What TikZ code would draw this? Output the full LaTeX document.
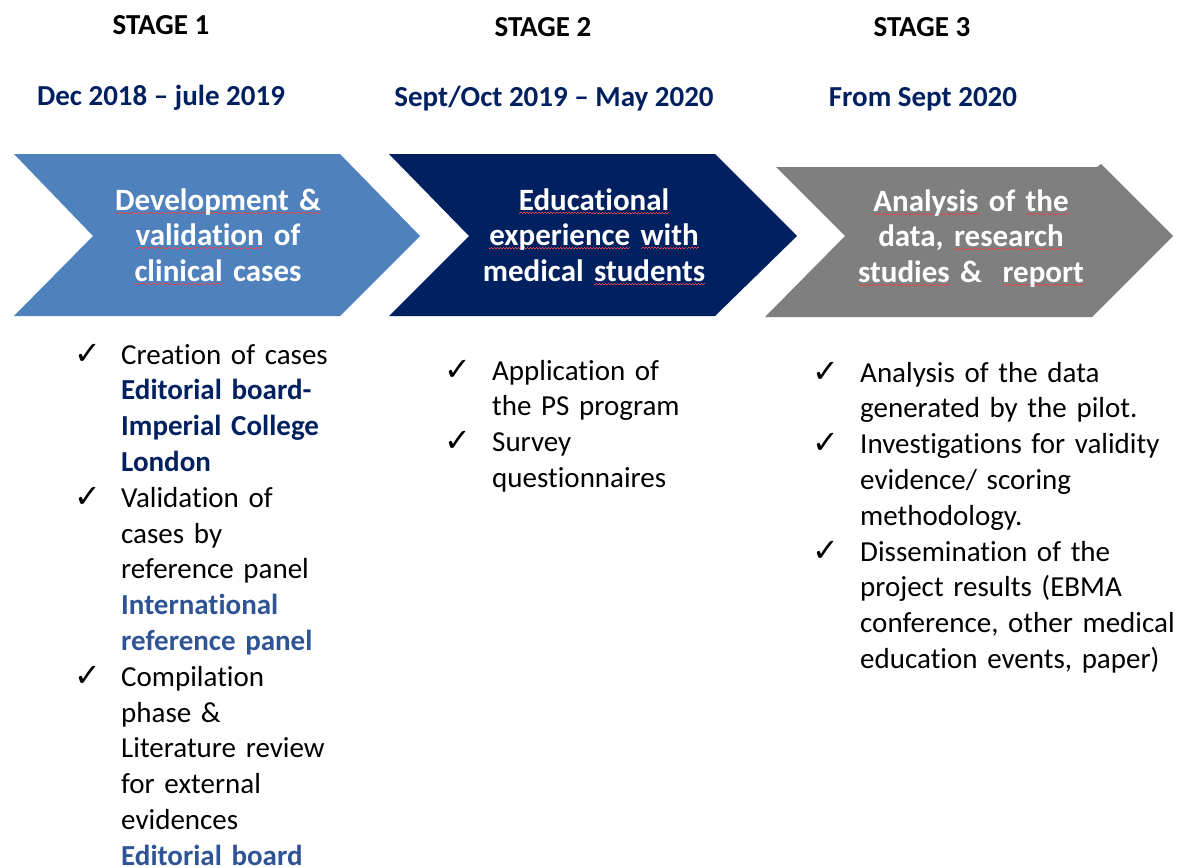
\documentclass[tikz,border=0pt]{standalone}
\usepackage{fontspec}
\setmainfont[Ligatures=NoCommon]{Carlito}
\newfontfamily\tickfont{DejaVu Sans}
\usetikzlibrary{positioning}
\definecolor{chevblue}{HTML}{4F81BD}
\definecolor{chevnavy}{HTML}{002060}
\definecolor{chevgray}{HTML}{7F7F7F}
\definecolor{panelblue}{HTML}{2F5496}
\definecolor{spellred}{HTML}{E0474C}
\newsavebox{\splbox}
\newcommand{\spl}[1]{\leavevmode\sbox{\splbox}{#1}\rlap{\color{spellred}\hbox to \wd\splbox{\xleaders\hbox{\rule[-3.2pt]{1.5pt}{0.7pt}\rule[-2.5pt]{1.5pt}{0.7pt}}\hfill}}\usebox{\splbox}}
\AtBeginDocument{\fontsize{29}{35.8}\selectfont}

\begin{document}
\begin{tikzpicture}[x=1pt,y=-1pt,
    stagehead/.style={font=\bfseries, anchor=base},
    period/.style={font=\bfseries, text=chevnavy, anchor=base},
    chevtext/.style={font=\fontsize{31}{35.5}\selectfont\bfseries, text=white,
      text width=300pt, align=center, anchor=base, inner sep=0pt},
    itemtext/.style={text width=340pt, align=left, anchor=base west, inner sep=0pt},
    tick/.style={font=\fontsize{32}{32}\selectfont\tickfont, anchor=base, inner sep=0pt}]
  \useasboundingbox (0,0) rectangle (1191,867);

  % stages and dates
  \node[stagehead] (s1) at (161,35) {STAGE 1};
  \node[stagehead] (s2) at (543,37) {STAGE 2};
  \node[stagehead] (s3) at (922,37) {STAGE 3};
  \node[period] (d1) at (161,105) {Dec 2018 – jule 2019};
  \node[period] (d2) at (554,106) {Sept/Oct 2019 – May 2020};
  \node[period] (d3) at (923,106) {From Sept 2020};

  % chevrons
  \fill[chevblue] (14,154) -- (340,154) -- (420,236) -- (340,316) -- (14,316) -- (93,236) -- cycle;
  \fill[chevnavy] (389,154) -- (715,154) -- (797,236) -- (715,316) -- (389,316) -- (469,236) -- cycle;
  \fill[chevgray] (776,167) -- (1097,167) -- (1101,164) -- (1173,236) -- (1092,317) -- (765,317) -- (845,236) -- cycle;
  \node[chevtext] (dev) at (218,210) {\spl{Development \&}\\ \spl{validation} of\\ \spl{clinical} cases};
  \node[chevtext] (edu) at (594,210) {\spl{Educational}\\ \spl{experience} \spl{with}\\ medical \spl{students}};
  \node[chevtext] (ana) at (971,211) {\spl{Analysis} of \spl{the}\\ data, \spl{research}\\ \spl{studies} \&\ \ \spl{report}};

  % stage 1 items
  \node[itemtext] (c1) at (121,364) {Creation of cases\\ {\bfseries\color{chevnavy}Editorial board-\\ Imperial College\\ London}};
  \node[itemtext] (c2) at (121,507.2) {Validation of\\ cases by\\ reference panel\\ {\bfseries\color{panelblue}International\\ reference panel}};
  \node[itemtext] (c3) at (121,686.2) {Compilation\\ phase \&\\ Literature review\\ for external\\ evidences\\ {\bfseries\color{panelblue}Editorial board}};
  \node[tick] (k1) at ([xshift=-33pt]c1.base west) {✓};
  \node[tick] (k2) at ([xshift=-33pt]c2.base west) {✓};
  \node[tick] (k3) at ([xshift=-33pt]c3.base west) {✓};

  % stage 2 items
  \node[itemtext] (a1) at (492,380) {Application of\\ the PS program};
  \node[itemtext] (a2) at (492,451.6) {Survey\\ questionnaires};
  \node[tick] (k4) at ([xshift=-34pt]a1.base west) {✓};
  \node[tick] (k5) at ([xshift=-34pt]a2.base west) {✓};

  % stage 3 items
  \node[itemtext] (r1) at (860,382) {Analysis of the data\\ generated by the pilot.};
  \node[itemtext] (r2) at (860,453.6) {Investigations for validity\\ evidence/ scoring\\ methodology.};
  \node[itemtext] (r3) at (860,561) {Dissemination of the\\ project results (EBMA\\ conference, other medical\\ education events, paper)};
  \node[tick] (k6) at ([xshift=-34pt]r1.base west) {✓};
  \node[tick] (k7) at ([xshift=-34pt]r2.base west) {✓};
  \node[tick] (k8) at ([xshift=-34pt]r3.base west) {✓};
\end{tikzpicture}
\end{document}
